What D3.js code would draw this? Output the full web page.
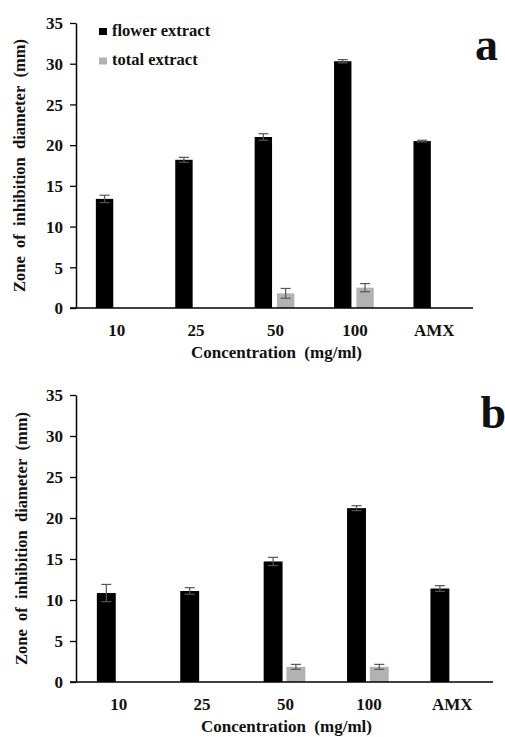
<!DOCTYPE html>
<html>
<head>
<meta charset="utf-8">
<script src="https://cdn.jsdelivr.net/npm/d3@7"></script>
<style>
  body { margin: 0; background: #fff; }
  svg text { font-family: "Liberation Serif", "Times New Roman", Times, "DejaVu Serif", serif; font-weight: bold; fill: #111; }
</style>
</head>
<body>
<div id="chart"></div>
<script>
// data
var categories = ["10", "25", "50", "100", "AMX"];
var series = ["flower extract", "total extract"];
var colors = ["#000000", "#b2b2b2"];
var yTicks = [0, 5, 10, 15, 20, 25, 30, 35];

// panel a
var aFlower = [13.4, 18.2, 21.0, 30.3, 20.5];
var aFlowerErr = [0.45, 0.3, 0.4, 0.2, 0.1];
var aTotal = [0, 0, 1.8, 2.5, 0];
var aTotalErr = [0, 0, 0.6, 0.5, 0];

// panel b
var bFlower = [10.85, 11.1, 14.7, 21.2, 11.4];
var bFlowerErr = [1.05, 0.4, 0.5, 0.3, 0.35];
var bTotal = [0, 0, 1.85, 1.85, 0];
var bTotalErr = [0, 0, 0.3, 0.3, 0];

var serifFont = '"Liberation Serif", "Times New Roman", Times, "DejaVu Serif", serif';

var svg = d3.select("#chart").append("svg")
    .attr("width", 505)
    .attr("height", 737);

function panel(cfg) {
  var g = svg.append("g");

  var x0 = d3.scaleBand().domain(categories)
      .range([cfg.left, cfg.right])
      .paddingInner(0.5).paddingOuter(0.25);
  var x1 = d3.scaleBand().domain(series)
      .range([0, x0.bandwidth()])
      .paddingInner(cfg.barGap);
  var y = d3.scaleLinear().domain([0, 35]).range([cfg.bottom, cfg.top]);

  var rows = categories.map(function(c, i) {
    return [
      {cat: c, s: series[0], v: cfg.flower[i], e: cfg.flowerErr[i]},
      {cat: c, s: series[1], v: cfg.total[i], e: cfg.totalErr[i]}
    ];
  });
  var flat = [].concat.apply([], rows).filter(function(d) { return d.v > 0; });

  g.selectAll(".bar")
      .data(flat)
    .enter().append("rect")
      .attr("class", "bar")
      .attr("x", function(d) { return x0(d.cat) + x1(d.s); })
      .attr("width", x1.bandwidth())
      .attr("y", function(d) { return y(d.v); })
      .attr("height", function(d) { return cfg.bottom - y(d.v); })
      .style("fill", function(d) { return colors[series.indexOf(d.s)]; });

  // error bars
  var eb = g.selectAll(".err")
      .data(flat)
    .enter().append("g")
      .attr("class", "err")
      .attr("transform", function(d) { return "translate(" + (x0(d.cat) + x1(d.s) + x1.bandwidth() / 2) + ",0)"; })
      .style("stroke", "#555")
      .style("stroke-width", 1.2);
  eb.append("line")
      .attr("y1", function(d) { return y(d.v + d.e); })
      .attr("y2", function(d) { return y(d.v - d.e); });
  eb.append("line")
      .attr("x1", -5).attr("x2", 5)
      .attr("y1", function(d) { return y(d.v + d.e); })
      .attr("y2", function(d) { return y(d.v + d.e); });
  eb.append("line")
      .attr("x1", -5).attr("x2", 5)
      .attr("y1", function(d) { return y(d.v - d.e); })
      .attr("y2", function(d) { return y(d.v - d.e); });

  // y axis
  var yAxis = g.append("g")
      .attr("transform", "translate(" + cfg.left + ",0)")
      .call(d3.axisLeft(y).tickValues(yTicks).tickSize(6).tickSizeOuter(0).tickPadding(7));
  yAxis.attr("font-family", null).attr("font-size", null);
  yAxis.select(".domain").style("stroke", "#000").style("stroke-width", 1.5);
  yAxis.selectAll(".tick line").style("stroke", "#000").style("stroke-width", 1.3);
  yAxis.selectAll("text")
      .attr("dy", "0.34em")
      .style("font-family", serifFont)
      .style("font-weight", "bold")
      .style("font-size", "17px")
      .style("fill", "#111");

  // baseline
  g.append("line")
      .attr("x1", cfg.left - 6).attr("x2", cfg.right)
      .attr("y1", cfg.bottom).attr("y2", cfg.bottom)
      .style("stroke", "#000").style("stroke-width", 1.5);

  // category labels
  g.selectAll(".cat")
      .data(categories)
    .enter().append("text")
      .attr("class", "cat")
      .attr("x", function(d) { return x0(d) + x0.bandwidth() / 2 + 1; })
      .attr("y", cfg.bottom + 28)
      .attr("text-anchor", "middle")
      .style("font-size", "17px")
      .text(function(d) { return d; });

  g.append("text")
      .attr("x", (cfg.left + cfg.right) / 2 + 2)
      .attr("y", cfg.bottom + 50)
      .attr("text-anchor", "middle")
      .style("font-size", "17px")
      .text("Concentration\u00a0\u00a0(mg/ml)");

  g.append("text")
      .attr("transform", "translate(" + cfg.titleX + "," + ((cfg.top + cfg.bottom) / 2) + ")rotate(-90)")
      .attr("text-anchor", "middle")
      .style("font-size", "16.5px")
      .text("Zone\u00a0 of\u00a0 inhibition\u00a0 diameter\u00a0 (mm)");

  g.append("text")
      .attr("x", cfg.letterX)
      .attr("y", cfg.letterY)
      .attr("text-anchor", "end")
      .style("font-size", cfg.letterSize + "px")
      .text(cfg.letter);

  return g;
}

var pa = panel({
  left: 76, right: 473, top: 23, bottom: 308, barGap: 0.22,
  flower: aFlower, flowerErr: aFlowerErr, total: aTotal, totalErr: aTotalErr,
  titleX: 25, letter: "a", letterX: 498, letterY: 60, letterSize: 46
});

panel({
  left: 76, right: 493, top: 395, bottom: 682, barGap: 0.17,
  flower: bFlower, flowerErr: bFlowerErr, total: bTotal, totalErr: bTotalErr,
  titleX: 27, letter: "b", letterX: 506, letterY: 428, letterSize: 46
});

// legend (panel a only)
var legend = pa.selectAll(".legend")
    .data(series)
  .enter().append("g")
    .attr("class", "legend")
    .attr("transform", function(d, i) { return "translate(99," + (28 + i * 29.5) + ")"; });
legend.append("rect")
    .attr("width", 8).attr("height", 7)
    .style("fill", function(d, i) { return colors[i]; });
legend.append("text")
    .attr("x", 13).attr("y", 7.5)
    .style("font-size", "16.5px")
    .text(function(d) { return d; });
</script>
</body>
</html>
